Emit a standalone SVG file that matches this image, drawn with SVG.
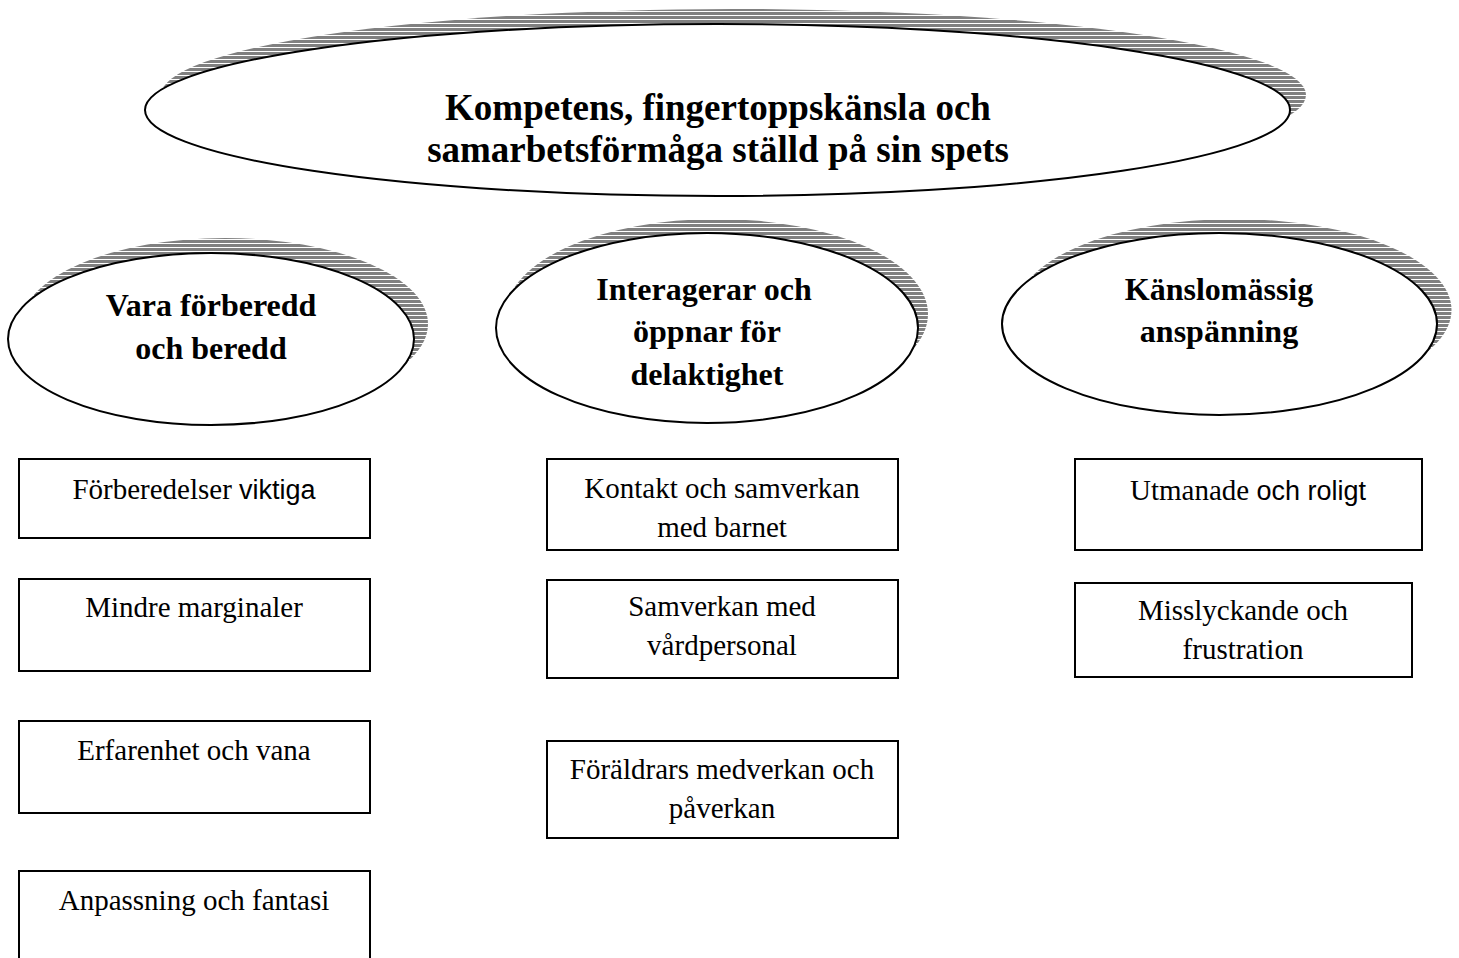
<svg xmlns="http://www.w3.org/2000/svg" width="1459" height="958" viewBox="0 0 1459 958">
<style>
.el{fill:#fff;stroke:#000;stroke-width:2}
.sh{fill:url(#stripes);stroke:none}
.box{fill:#fff;stroke:#000;stroke-width:2}
.h{font-family:"Liberation Serif","Times New Roman",serif;font-weight:bold;fill:#000;text-anchor:middle}
.t{font-family:"Liberation Serif","Times New Roman",serif;font-size:29px;fill:#000;text-anchor:middle}
.s{font-family:"Liberation Sans",Arial,sans-serif;font-size:27px}
</style>
<defs>
<pattern id="stripes" patternUnits="userSpaceOnUse" width="8" height="4">
<rect x="0" y="0" width="8" height="4" fill="#fff"/>
<rect x="0" y="0" width="8" height="3" fill="#808080"/>
</pattern>
</defs>
<rect width="1459" height="958" fill="#fff"/>
<g id="connectors"></g>
<g id="title">
<ellipse class="sh" cx="733.5" cy="95" rx="572.5" ry="86"/>
<ellipse class="el" cx="717.5" cy="110" rx="572.5" ry="86"/>
<text class="h" x="718" y="120" font-size="37">Kompetens, fingertoppskänsla och</text>
<text class="h" x="718" y="162" font-size="37">samarbetsförmåga ställd på sin spets</text>
</g>
<g id="cat1">
<ellipse class="sh" cx="225" cy="324" rx="203" ry="86"/>
<ellipse class="el" cx="211" cy="339" rx="203" ry="86"/>
<text class="h" x="211" y="316" font-size="32">Vara förberedd</text>
<text class="h" x="211" y="359" font-size="32">och beredd</text>
</g>
<g id="cat2">
<ellipse class="sh" cx="717" cy="314" rx="211" ry="95"/>
<ellipse class="el" cx="707" cy="328" rx="211" ry="95"/>
<text class="h" x="704" y="300" font-size="32">Interagerar och</text>
<text class="h" x="707" y="342" font-size="32">öppnar för</text>
<text class="h" x="707" y="385" font-size="32">delaktighet</text>
</g>
<g id="cat3">
<ellipse class="sh" cx="1234" cy="310" rx="217.5" ry="91"/>
<ellipse class="el" cx="1219.5" cy="324" rx="217.5" ry="91"/>
<text class="h" x="1219" y="300" font-size="32">Känslomässig</text>
<text class="h" x="1219" y="342" font-size="32">anspänning</text>
</g>
<g id="b1">
<rect class="box" x="19" y="459" width="351" height="79"/>
<text class="t" x="194" y="499">Förberedelser <tspan class="s">viktiga</tspan></text>
</g>
<g id="b2">
<rect class="box" x="19" y="579" width="351" height="92"/>
<text class="t" x="194" y="617">Mindre marginaler</text>
</g>
<g id="b3">
<rect class="box" x="19" y="721" width="351" height="92"/>
<text class="t" x="194" y="760">Erfarenhet och vana</text>
</g>
<g id="b4">
<rect class="box" x="19" y="871" width="351" height="100"/>
<text class="t" x="194" y="910">Anpassning och fantasi</text>
</g>
<g id="b5">
<rect class="box" x="547" y="459" width="351" height="91"/>
<text class="t" x="722" y="498">Kontakt och samverkan</text>
<text class="t" x="722" y="537">med barnet</text>
</g>
<g id="b6">
<rect class="box" x="547" y="580" width="351" height="98"/>
<text class="t" x="722" y="616">Samverkan med</text>
<text class="t" x="722" y="655">vårdpersonal</text>
</g>
<g id="b7">
<rect class="box" x="547" y="741" width="351" height="97"/>
<text class="t" x="722" y="779">Föräldrars medverkan och</text>
<text class="t" x="722" y="818">påverkan</text>
</g>
<g id="b8">
<rect class="box" x="1075" y="459" width="347" height="91"/>
<text class="t" x="1248" y="500">Utmanade <tspan class="s">och roligt</tspan></text>
</g>
<g id="b9">
<rect class="box" x="1075" y="583" width="337" height="94"/>
<text class="t" x="1243" y="620">Misslyckande och</text>
<text class="t" x="1243" y="659">frustration</text>
</g>
</svg>
